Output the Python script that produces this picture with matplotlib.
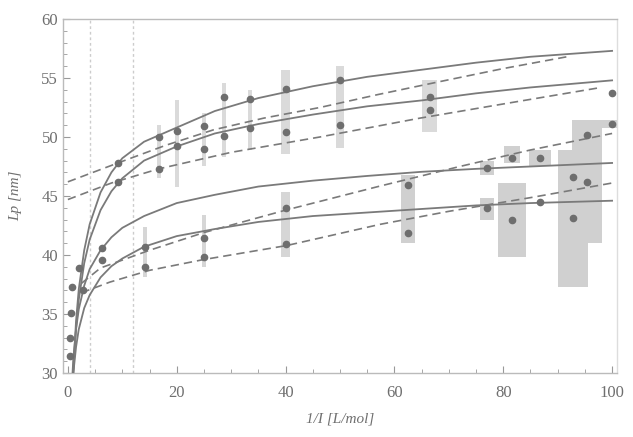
import matplotlib
matplotlib.use("Agg")
import matplotlib.pyplot as plt
from matplotlib.ticker import MultipleLocator

# ---------------- data ----------------
# measured points (x = 1/I [L/mol], y = Lp [nm])
s1_x = [0.4, 9.2, 16.7, 20, 25, 28.7, 33.5, 40, 50, 66.5, 100]
s1_y = [33.0, 47.8, 50.0, 50.5, 50.9, 53.4, 53.2, 54.1, 54.8, 53.4, 53.7]
s2_x = [0.4, 9.2, 16.7, 20, 25, 28.7, 33.5, 40, 50, 66.5, 100]
s2_y = [31.4, 46.2, 47.3, 49.2, 49.0, 50.1, 50.8, 50.4, 51.0, 52.3, 51.1]
s3_x = [0.7, 2.0, 6.3, 14.2, 25, 40, 62.5, 77, 81.6, 86.8, 92.8, 95.4]
s3_y = [37.3, 38.9, 40.6, 40.7, 41.4, 44.0, 45.9, 47.4, 48.2, 48.2, 46.6, 50.2]
s4_x = [0.5, 2.8, 6.3, 14.2, 25, 40, 62.5, 77, 81.6, 86.8, 92.8, 95.4]
s4_y = [35.1, 37.0, 39.6, 39.0, 39.8, 40.9, 41.9, 44.0, 43.0, 44.5, 43.1, 46.2]

# error ranges (shaded vertical bands)
eb_x = [16.7, 20, 25, 28.7, 33.5, 40, 50, 66.5,
        14.2, 25, 40, 62.5, 77, 77, 81.6, 81.6, 86.8, 92.8, 95.4, 100]
eb_lo = [46.5, 45.8, 47.5, 48.3, 48.9, 48.6, 49.1, 50.4,
         38.1, 39.0, 39.8, 41.0, 43.0, 46.8, 39.8, 47.8, 47.5, 37.3, 41.0, 50.8]
eb_hi = [51.0, 53.1, 52.0, 54.6, 54.0, 55.7, 56.0, 54.8,
         42.4, 43.4, 45.3, 46.8, 44.8, 48.0, 46.1, 49.2, 48.9, 48.9, 51.4, 51.4]

# fitted curves (solid)
fit_x = [0.7, 1, 1.5, 2, 3, 4, 6, 8, 10, 14, 20, 27, 35, 45, 55, 65, 75, 85, 100]
fit1_y = [26.2, 30.3, 34.4, 37.1, 40.4, 42.6, 45.3, 47.0, 48.2, 49.6, 50.8, 52.2,
          53.3, 54.3, 55.1, 55.7, 56.3, 56.8, 57.3]
fit2_y = [26.3, 30.0, 33.8, 36.2, 39.3, 41.3, 43.8, 45.4, 46.5, 48.0, 49.2, 50.3,
          51.1, 51.9, 52.6, 53.1, 53.7, 54.2, 54.8]
fit3_y = [28.7, 31.2, 33.7, 35.4, 37.4, 38.8, 40.4, 41.5, 42.3, 43.3, 44.4, 45.1,
          45.8, 46.3, 46.7, 47.05, 47.3, 47.5, 47.8]
fit4_y = [27.8, 30.0, 32.2, 33.7, 35.5, 36.6, 38.1, 39.05, 39.7, 40.7, 41.6, 42.2,
          42.8, 43.3, 43.6, 43.9, 44.2, 44.4, 44.6]

# dashed curves
d1_x = [0, 9.2, 18, 26.7, 36, 46.3, 57, 68.4, 80, 91.7]
d1_y = [46.2, 47.8, 49.3, 50.6, 51.6, 52.5, 53.6, 54.7, 55.8, 56.8]
d2_x = [0, 8, 16.7, 30, 46.3, 64.7, 80, 98]
d2_y = [44.7, 46.1, 47.3, 48.7, 50.0, 51.6, 52.8, 54.2]
d3_x = [2.5, 6, 15, 25, 40, 57, 72, 85, 100]
d3_y = [37.6, 38.9, 40.4, 41.9, 43.8, 45.8, 47.5, 48.9, 50.3]
d4_x = [2.5, 7.7, 15, 24.8, 40.2, 57.4, 70, 85.5, 100]
d4_y = [36.8, 37.7, 38.7, 39.6, 40.8, 42.6, 43.7, 44.9, 46.1]

x_ticks = [0, 20, 40, 60, 80, 100]
y_ticks = [30, 35, 40, 45, 50, 55, 60]
grid_x = [4, 12]

# ---------------- drawing ----------------
plt.rcParams['font.family'] = ['Liberation Serif', 'DejaVu Serif']
fig = plt.figure(figsize=(6.33, 4.37), dpi=100)
ax = fig.add_axes([0.0995, 0.1465, 0.8752, 0.81])

eb_w = [0.7, 0.7, 0.8, 0.8, 0.8, 1.5, 1.5, 2.8,
        0.8, 0.8, 1.5, 2.5, 2.5, 2.5, 5.0, 3.0, 4.0, 5.5, 5.5, 4.0]
eb_c = ['#dadada'] * 8 + ['#d6d6d6'] * 3 + ['#d0d0d0'] * 9
ax.bar(eb_x, [h - l for h, l in zip(eb_hi, eb_lo)], bottom=eb_lo, width=eb_w,
       color=eb_c, edgecolor='none', zorder=1)

for gx in grid_x:
    ax.axvline(gx, color='#cccccc', lw=1.0, ls=(0, (2, 2)), zorder=0.5)

line_c = '#7a7a7a'
for fy in (fit1_y, fit2_y, fit3_y, fit4_y):
    ax.plot(fit_x, fy, color=line_c, lw=1.3, zorder=3)
for dx, dy in ((d1_x, d1_y), (d2_x, d2_y), (d3_x, d3_y), (d4_x, d4_y)):
    ax.plot(dx, dy, color=line_c, lw=1.2, ls=(0, (5, 3)), zorder=3)

for sx, sy in ((s1_x, s1_y), (s2_x, s2_y), (s3_x, s3_y), (s4_x, s4_y)):
    ax.plot(sx, sy, 'o', color='#6e6e6e', ms=4.5, zorder=4, clip_on=False)

ax.set_xlim(-0.9, 100.9)
ax.set_ylim(30, 60)
ax.set_xticks(x_ticks)
ax.set_yticks(y_ticks)
ax.xaxis.set_minor_locator(MultipleLocator(5))
ax.yaxis.set_minor_locator(MultipleLocator(1))
ax.tick_params(which='both', direction='in', colors='#999999',
               labelcolor='#6f6f6f', labelsize=12)
ax.tick_params(which='major', length=5)
ax.tick_params(which='minor', length=3)
ax.tick_params(axis='x', which='major', pad=9)
for sp in ax.spines.values():
    sp.set_color('#bbbbbb')
    sp.set_linewidth(1.0)
ax.spines['right'].set_color('#dddddd')

ax.set_xlabel('1/I [L/mol]', fontstyle='italic', color='#6f6f6f', fontsize=11,
              labelpad=8)
ax.set_ylabel('Lp [nm]', fontstyle='italic', color='#6f6f6f', fontsize=11,
              labelpad=14)

fig.savefig('out.png', dpi=100)
